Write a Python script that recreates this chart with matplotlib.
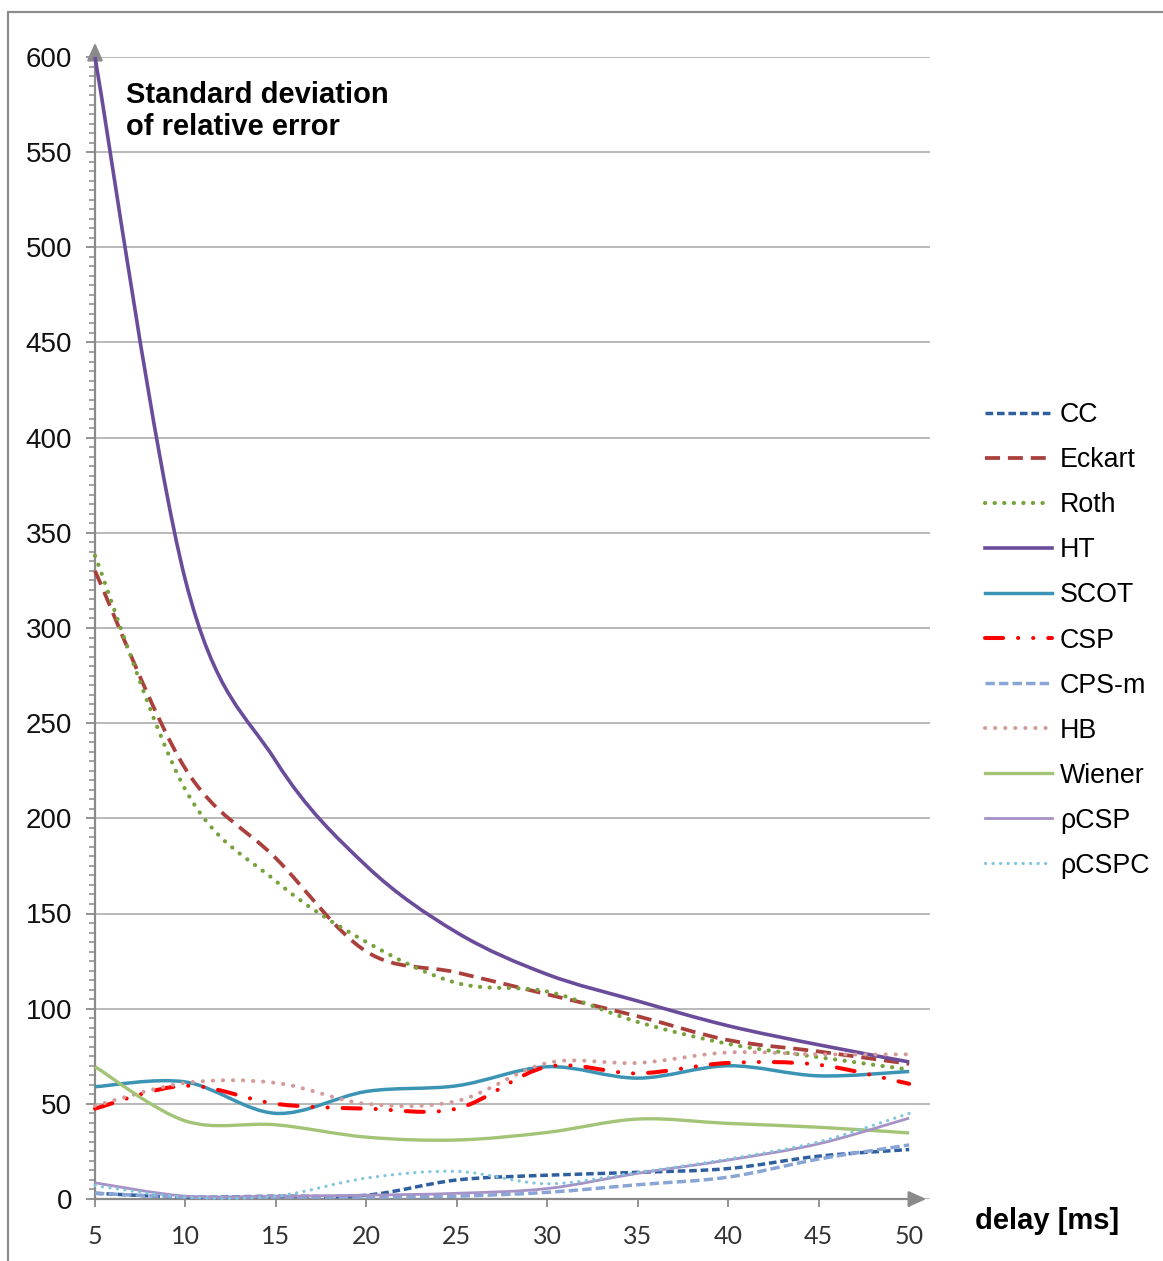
import matplotlib
matplotlib.use("Agg")
import matplotlib.pyplot as plt
import numpy as np
from matplotlib.lines import Line2D
from matplotlib.patches import PathPatch, Rectangle
from matplotlib.path import Path
from matplotlib.ticker import MultipleLocator

# delay [ms] and standard deviation of the relative error for each method
delays = [5, 10, 15, 20, 25, 30, 35, 40, 45, 50]
cc = [3, 1, 1.5, 2, 10, 12.5, 14, 16, 22.5, 26]
eckart = [330, 226, 179, 130, 119, 107.5, 96, 83.5, 77.5, 71]
roth = [338, 215, 167, 135, 113.5, 109, 93, 81.5, 74.5, 68]
ht = [600, 325, 230, 175, 140, 118, 104, 91, 81, 72]
scot = [59, 61.5, 45, 56.5, 59.5, 69.5, 63.5, 70, 64.7, 67]
csp = [47.5, 59.5, 50, 47.5, 47.5, 69.5, 66, 71.5, 70.5, 60.5]
cps_m = [3, 1, 1, 1, 1.5, 3.5, 7.5, 11.5, 21, 28.4]
hb = [49, 61, 61, 50, 51.5, 71.5, 71.5, 77, 76, 76]
wiener = [69.5, 41, 39, 32.5, 31, 35, 42, 39.7, 37.7, 34.7]
rho_csp = [8.5, 1.5, 1.5, 2, 3, 5.5, 13.5, 20.5, 29, 42.5]
rho_cspc = [7, 1, 1.5, 11, 14.5, 8, 14, 21, 30, 45]

labels = ["CC", "Eckart", "Roth", "HT", "SCOT", "CSP", "CPS-m", "HB",
          "Wiener", "ρCSP", "ρCSPC"]
values = [cc, eckart, roth, ht, scot, csp, cps_m, hb, wiener, rho_csp, rho_cspc]

styles = [
    dict(color="#2f5f9f", lw=2.5, ls=(0, (2.2, 1.1)), cap="butt"),
    dict(color="#aa3f3b", lw=2.7, ls=(0, (4.0, 2.1)), cap="butt"),
    dict(color="#77a23b", lw=3.0, ls=(0, (0.05, 2.25)), cap="round"),
    dict(color="#6a4c9b", lw=2.6, ls="-", cap="butt"),
    dict(color="#3b94b4", lw=2.5, ls="-", cap="butt"),
    dict(color="#ff0000", lw=2.9, ls=(0, (4.5, 3.7, 0.05, 3.7, 0.05, 3.7)), cap="round"),
    dict(color="#89a5d6", lw=2.5, ls=(0, (2.7, 1.2)), cap="butt"),
    dict(color="#d49a9a", lw=2.9, ls=(0, (0.05, 2.45)), cap="round"),
    dict(color="#a3c476", lw=2.4, ls="-", cap="butt"),
    dict(color="#a592c6", lw=2.0, ls="-", cap="butt"),
    dict(color="#80c4de", lw=2.3, ls=(0, (0.05, 2.3)), cap="round"),
]

AXIS_GRAY = "#8a8a8a"


def smooth_path(x, y):
    """Cubic Bezier path through the points, like a smoothed spreadsheet line."""
    pts = np.column_stack([x, y]).astype(float)
    n = len(pts)
    verts = [pts[0]]
    codes = [Path.MOVETO]
    for i in range(n - 1):
        p0 = pts[max(i - 1, 0)]
        p1 = pts[i]
        p2 = pts[i + 1]
        p3 = pts[min(i + 2, n - 1)]
        verts += [p1 + (p2 - p0) / 6, p2 - (p3 - p1) / 6, p2]
        codes += [Path.CURVE4] * 3
    return Path(verts, codes)


W, H = 1163, 1261
fig = plt.figure(figsize=(W / 100, H / 100), dpi=100)
ax = fig.add_axes([95 / W, 1 - 1199 / H, 835 / W, 1142 / H])

for spine in ax.spines.values():
    spine.set_visible(False)

handles = []
for vals, st in zip(values, styles):
    patch = PathPatch(smooth_path(delays, vals), fill=False, edgecolor=st["color"],
                      lw=st["lw"], linestyle=st["ls"], capstyle=st["cap"],
                      joinstyle="round", zorder=3, clip_on=False)
    ax.add_patch(patch)
    handles.append(Line2D([], [], color=st["color"], lw=st["lw"], linestyle=st["ls"],
                          dash_capstyle=st["cap"]))

ax.set_xlim(5, 51.15)
ax.set_ylim(0, 600)

ax.set_xticks(delays)
ax.set_yticks(range(0, 601, 50))
ax.yaxis.set_minor_locator(MultipleLocator(5))
ax.tick_params(axis="y", which="major", length=6.5, width=1.3, color=AXIS_GRAY,
               pad=10, labelsize=20, labelcolor="#111111")
ax.tick_params(axis="y", which="minor", length=4, width=1.1, color=AXIS_GRAY)
ax.tick_params(axis="x", length=6, width=1.3, color=AXIS_GRAY, pad=13,
               labelsize=18, labelcolor="#333333")
for lab in ax.get_yticklabels():
    lab.set_fontfamily("Liberation Sans")
for lab in ax.get_xticklabels():
    lab.set_fontfamily("Lato")

ax.yaxis.grid(True, color="#a6a6a6", lw=1.1)
ax.set_axisbelow(True)

# axes drawn as arrows
arrow = dict(arrowstyle="-|>,head_length=0.9,head_width=0.4", color=AXIS_GRAY,
             lw=1.6, shrinkA=0, shrinkB=0, mutation_scale=12)
ax.annotate("", xy=(5, 607.5), xytext=(5, 0), arrowprops=arrow,
            annotation_clip=False, zorder=2)
ax.annotate("", xy=(50.95, 0), xytext=(5, 0), arrowprops=arrow,
            annotation_clip=False, zorder=2)

fig.text(126 / W, 1 - 81 / H, "Standard deviation\nof relative error",
         fontsize=21, fontweight="bold", family="Liberation Sans",
         va="top", ha="left", linespacing=1.2)
fig.text(975 / W, 1 - 1229 / H, "delay [ms]", fontsize=21, fontweight="bold",
         family="Liberation Sans", va="baseline", ha="left")

fig.legend(handles, labels, loc="center left", bbox_to_anchor=(985 / W, 1 - 640.5 / H),
           frameon=False, borderpad=0, borderaxespad=0, handlelength=2.5,
           handletextpad=0.3, labelspacing=0.71,
           prop=dict(family="Liberation Sans", size=19.3))

fig.add_artist(Rectangle((8 / W, -0.05), 1.1, 1.05 - 12 / H, transform=fig.transFigure,
                         fill=False, edgecolor="#8c8c8c", lw=1.6))

fig.savefig("out.png", dpi=100, facecolor="white")
